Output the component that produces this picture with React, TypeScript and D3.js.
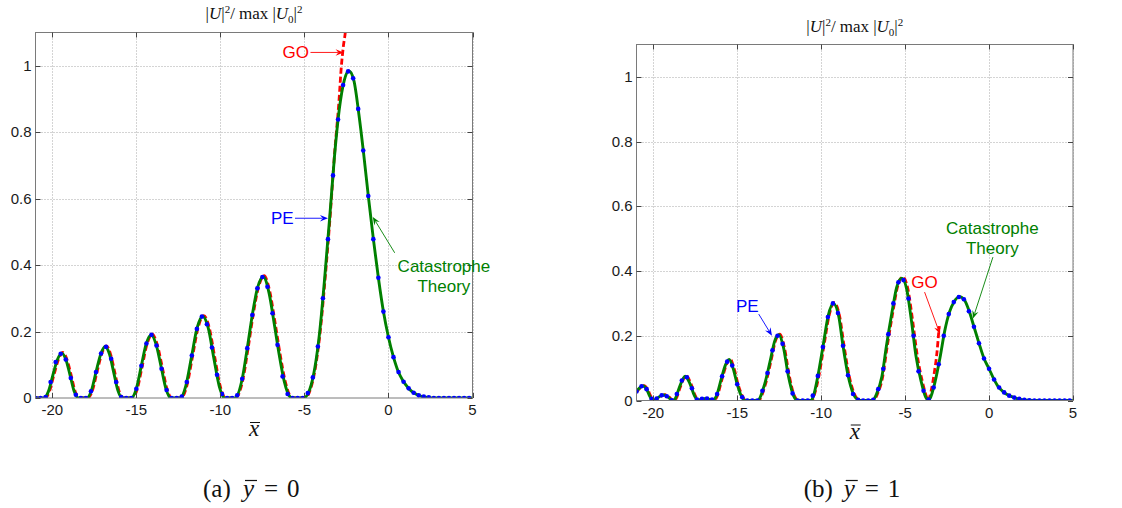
import React from 'react';
import * as d3 from 'd3';

type P = [number, number];

const xTicks = [-20, -15, -10, -5, 0, 5];
const xTickLabels = ['-20', '-15', '-10', '-5', '0', '5'];
const yTicks = [0, 0.2, 0.4, 0.6, 0.8, 1];
const yTickLabels = ['0', '0.2', '0.4', '0.6', '0.8', '1'];
const xDomain: [number, number] = [-21, 5];
const yDomain: [number, number] = [0, 1.1];

// ---------- panel (a): y = 0 ----------
const theoryA: P[] = [
  [-21, 0], [-20.5, 0], [-20.23, 0.02], [-19.97, 0.068], [-19.7, 0.115], [-19.43, 0.135], [-19.19, 0.115], [-18.94, 0.068], [-18.7, 0.02], [-18.45, 0],
  [-17.95, 0], [-17.67, 0.023], [-17.4, 0.078], [-17.12, 0.132], [-16.85, 0.155], [-16.6, 0.132], [-16.35, 0.078], [-16.1, 0.023], [-15.85, 0],
  [-15.3, 0], [-15.0, 0.028], [-14.71, 0.095], [-14.42, 0.162], [-14.12, 0.19], [-13.83, 0.162], [-13.53, 0.095], [-13.24, 0.028], [-12.95, 0],
  [-12.4, 0], [-12.06, 0.036], [-11.72, 0.123], [-11.39, 0.21], [-11.05, 0.246], [-10.72, 0.21], [-10.4, 0.123], [-10.07, 0.036], [-9.75, 0],
  [-9.15, 0], [-8.7, 0.058], [-8.4, 0.15], [-8.1, 0.25], [-7.8, 0.33], [-7.45, 0.365], [-7.1, 0.315], [-6.8, 0.225], [-6.5, 0.13], [-6.2, 0.05], [-5.85, 0.003], [-5.7, 0],
  [-5.05, 0], [-4.69, 0.025], [-4.39, 0.088], [-4.09, 0.2], [-3.8, 0.358], [-3.5, 0.541], [-3.22, 0.722], [-2.93, 0.867], [-2.63, 0.956], [-2.35, 0.984],
  [-2.06, 0.956], [-1.76, 0.854], [-1.48, 0.737], [-1.19, 0.604], [-0.89, 0.475], [-0.59, 0.358], [-0.3, 0.26], [0, 0.183], [0.3, 0.123], [0.57, 0.081],
  [0.87, 0.051], [1.17, 0.031], [1.46, 0.017], [1.76, 0.009], [2.04, 0.004], [2.33, 0.002], [2.7, 0], [5, 0],
];

const goA: P[] = [
  [-21, 0], [-20.45, 0], [-20.17, 0.02], [-19.91, 0.068], [-19.64, 0.115], [-19.37, 0.137], [-19.13, 0.116], [-18.88, 0.069], [-18.64, 0.02], [-18.4, 0],
  [-17.9, 0], [-17.61, 0.023], [-17.34, 0.078], [-17.06, 0.133], [-16.79, 0.157], [-16.54, 0.133], [-16.29, 0.079], [-16.04, 0.023], [-15.8, 0],
  [-15.25, 0], [-14.94, 0.028], [-14.65, 0.096], [-14.36, 0.163], [-14.06, 0.192], [-13.77, 0.163], [-13.47, 0.096], [-13.18, 0.028], [-12.9, 0],
  [-12.34, 0], [-12.0, 0.036], [-11.66, 0.124], [-11.33, 0.211], [-10.99, 0.248], [-10.66, 0.211], [-10.34, 0.124], [-10.01, 0.036], [-9.7, 0],
  [-9.1, 0], [-8.65, 0.058], [-8.35, 0.15], [-8.05, 0.25], [-7.75, 0.33], [-7.4, 0.368], [-7.05, 0.318], [-6.75, 0.228], [-6.45, 0.133], [-6.15, 0.052], [-5.8, 0.003], [-5.65, 0],
  [-4.95, 0], [-4.65, 0.025], [-4.35, 0.09], [-4.05, 0.205], [-3.75, 0.37], [-3.45, 0.56], [-3.2, 0.74], [-2.95, 0.89], [-2.8, 1.0], [-2.68, 1.06], [-2.56, 1.104], [-2.5, 1.14],
];

const peA: P[] = [
  [-21.0, 0], [-20.7, 0], [-20.4, 0.003], [-20.1, 0.048], [-19.8, 0.108], [-19.5, 0.133], [-19.2, 0.116], [-18.9, 0.06], [-18.6, 0.01], [-18.3, 0],
  [-18.0, 0], [-17.7, 0.02], [-17.4, 0.078], [-17.1, 0.134], [-16.8, 0.154], [-16.5, 0.118], [-16.2, 0.048], [-15.9, 0.003], [-15.6, 0], [-15.3, 0],
  [-15.0, 0.028], [-14.7, 0.097], [-14.4, 0.164], [-14.1, 0.19], [-13.8, 0.158], [-13.5, 0.088], [-13.2, 0.024], [-12.9, 0], [-12.6, 0], [-12.3, 0.004],
  [-12.0, 0.048], [-11.7, 0.128], [-11.4, 0.208], [-11.1, 0.245], [-10.8, 0.222], [-10.5, 0.152], [-10.2, 0.07], [-9.9, 0.012], [-9.6, 0], [-9.3, 0],
  [-9.0, 0.008], [-8.7, 0.058], [-8.4, 0.15], [-8.1, 0.25], [-7.8, 0.33], [-7.5, 0.364], [-7.2, 0.335], [-6.9, 0.255], [-6.6, 0.16], [-6.3, 0.065],
  [-6.0, 0.012], [-5.7, 0], [-5.4, 0], [-5.1, 0], [-4.8, 0.015], [-4.5, 0.062], [-4.2, 0.155], [-3.9, 0.3], [-3.6, 0.478], [-3.3, 0.67],
  [-3.0, 0.838], [-2.7, 0.942], [-2.4, 0.983], [-2.1, 0.962], [-1.8, 0.87], [-1.5, 0.745], [-1.2, 0.608], [-0.9, 0.478], [-0.6, 0.362], [-0.3, 0.26],
  [0.0, 0.183], [0.3, 0.123], [0.6, 0.078], [0.9, 0.049], [1.2, 0.029], [1.5, 0.016], [1.8, 0.008], [2.1, 0.004], [2.4, 0.002], [2.7, 0],
  [3.0, 0], [3.3, 0], [3.6, 0], [3.9, 0], [4.2, 0], [4.5, 0], [4.8, 0],
];

// ---------- panel (b): y = 1 ----------
const theoryB: P[] = [
  [-21, 0.028], [-20.8, 0.04], [-20.6, 0.045], [-20.4, 0.035], [-20.2, 0.012], [-20.02, 0], [-19.85, 0.004], [-19.6, 0.013], [-19.35, 0.017], [-19.1, 0.01],
  [-18.85, 0], [-18.7, 0.005], [-18.45, 0.04], [-18.1, 0.075], [-17.8, 0.05], [-17.55, 0.015], [-17.35, 0.001], [-17.1, 0.005], [-16.85, 0.006], [-16.6, 0.003],
  [-16.45, 0.002], [-16.25, 0.013], [-15.95, 0.067], [-15.7, 0.11], [-15.48, 0.127], [-15.25, 0.1], [-15.0, 0.05], [-14.78, 0.017], [-14.55, 0], [-13.8, 0],
  [-13.37, 0.05], [-13.04, 0.122], [-12.76, 0.185], [-12.52, 0.203], [-12.25, 0.165], [-11.95, 0.075], [-11.65, 0.015], [-11.4, 0], [-10.6, 0], [-10.46, 0.014],
  [-10.18, 0.08], [-9.87, 0.174], [-9.58, 0.262], [-9.28, 0.3], [-8.95, 0.259], [-8.7, 0.169], [-8.4, 0.078], [-8.09, 0.021], [-7.82, 0.002], [-7.7, 0],
  [-6.95, 0], [-6.71, 0.019], [-6.38, 0.075], [-6.12, 0.166], [-5.79, 0.27], [-5.5, 0.35], [-5.2, 0.378], [-4.91, 0.345], [-4.63, 0.249], [-4.36, 0.14],
  [-4.05, 0.06], [-3.77, 0.01], [-3.63, 0.002], [-3.5, 0.008], [-3.22, 0.057], [-2.92, 0.133], [-2.64, 0.215], [-2.36, 0.273], [-2.07, 0.306], [-1.76, 0.321],
  [-1.47, 0.311], [-1.19, 0.277], [-0.9, 0.228], [-0.61, 0.179], [-0.3, 0.13], [0, 0.098], [0.28, 0.067], [0.57, 0.041], [0.86, 0.026], [1.16, 0.016],
  [1.45, 0.01], [1.75, 0.005], [2.02, 0.002], [2.3, 0.001], [2.7, 0], [5, 0],
];

const goB: P[] = [
  [-21, 0.026], [-20.75, 0.04], [-20.55, 0.046], [-20.35, 0.036], [-20.15, 0.013], [-19.97, 0], [-19.8, 0.004], [-19.55, 0.013], [-19.3, 0.018], [-19.05, 0.01],
  [-18.8, 0], [-18.65, 0.005], [-18.4, 0.04], [-18.05, 0.077], [-17.75, 0.051], [-17.5, 0.015], [-17.3, 0], [-16.4, 0], [-16.2, 0.013], [-15.9, 0.067],
  [-15.65, 0.11], [-15.43, 0.129], [-15.2, 0.101], [-14.95, 0.05], [-14.72, 0.017], [-14.5, 0], [-13.75, 0], [-13.32, 0.05], [-12.99, 0.122], [-12.71, 0.186],
  [-12.47, 0.205], [-12.2, 0.166], [-11.9, 0.076], [-11.6, 0.015], [-11.35, 0], [-10.55, 0], [-10.4, 0.019], [-10.12, 0.08], [-9.82, 0.174], [-9.53, 0.262],
  [-9.23, 0.302], [-8.9, 0.26], [-8.64, 0.17], [-8.34, 0.078], [-8.03, 0.021], [-7.76, 0.002], [-7.64, 0], [-6.9, 0], [-6.66, 0.019], [-6.33, 0.075],
  [-6.07, 0.166], [-5.74, 0.27], [-5.45, 0.352], [-5.15, 0.382], [-4.85, 0.348], [-4.56, 0.25], [-4.28, 0.14], [-3.98, 0.06], [-3.72, 0.01], [-3.65, 0],
  [-3.45, 0.03], [-3.25, 0.09], [-3.1, 0.15], [-2.97, 0.23],
];

const peB: P[] = [
  [-21.0, 0.028], [-20.7, 0.044], [-20.4, 0.035], [-20.1, 0.005], [-19.8, 0.006], [-19.5, 0.016], [-19.2, 0.013], [-18.9, 0.001], [-18.6, 0.02], [-18.3, 0.062],
  [-18.0, 0.072], [-17.7, 0.038], [-17.4, 0.003], [-17.1, 0.005], [-16.8, 0.006], [-16.5, 0.003], [-16.2, 0.02], [-15.9, 0.075], [-15.6, 0.12], [-15.3, 0.108],
  [-15.0, 0.05], [-14.7, 0.01], [-14.4, 0], [-14.1, 0], [-13.8, 0], [-13.5, 0.03], [-13.2, 0.085], [-12.9, 0.155], [-12.6, 0.2], [-12.3, 0.175],
  [-12.0, 0.09], [-11.7, 0.022], [-11.4, 0], [-11.1, 0], [-10.8, 0], [-10.5, 0.015], [-10.2, 0.076], [-9.9, 0.165], [-9.6, 0.258], [-9.3, 0.3],
  [-9.0, 0.27], [-8.7, 0.169], [-8.4, 0.078], [-8.1, 0.02], [-7.8, 0.002], [-7.5, 0], [-7.2, 0], [-6.9, 0.002], [-6.6, 0.035], [-6.3, 0.098],
  [-6.0, 0.205], [-5.7, 0.3], [-5.4, 0.365], [-5.1, 0.372], [-4.8, 0.315], [-4.5, 0.2], [-4.2, 0.09], [-3.9, 0.03], [-3.6, 0.003], [-3.3, 0.04],
  [-3.0, 0.112], [-2.7, 0.2], [-2.4, 0.267], [-2.1, 0.304], [-1.8, 0.32], [-1.5, 0.313], [-1.2, 0.276], [-0.9, 0.228], [-0.6, 0.177], [-0.3, 0.13],
  [0.0, 0.098], [0.3, 0.065], [0.6, 0.04], [0.9, 0.025], [1.2, 0.015], [1.5, 0.009], [1.8, 0.005], [2.1, 0.002], [2.4, 0.001], [2.7, 0],
  [3.0, 0], [3.3, 0], [3.6, 0], [3.9, 0], [4.2, 0], [4.5, 0], [4.8, 0],
];

const RED = '#ff0000';
const GREEN = '#008000';
const BLUE = '#0000ff';
const SANS = '"Liberation Sans", Arial, sans-serif';
const SERIF = '"Liberation Serif", "Times New Roman", serif';

type Note = { lines: string[]; color: string; tx: number; ty: number; lh: number; from: P; to: P };
type Box = { l: number; r: number; t: number; b: number };

const notesA: Note[] = [
  { lines: ['GO'], color: RED, tx: -5.52, ty: 1.022, lh: 0, from: [-4.64, 1.04], to: [-2.67, 1.04] },
  { lines: ['PE'], color: BLUE, tx: -6.32, ty: 0.524, lh: 0, from: [-5.56, 0.541], to: [-3.6, 0.541] },
  { lines: ['Catastrophe', 'Theory'], color: GREEN, tx: 3.3, ty: 0.38, lh: 20, from: [0.37, 0.437], to: [-0.93, 0.545] },
];
const notesB: Note[] = [
  { lines: ['PE'], color: BLUE, tx: -14.4, ty: 0.273, lh: 0, from: [-13.72, 0.267], to: [-12.93, 0.2] },
  { lines: ['GO'], color: RED, tx: -3.84, ty: 0.347, lh: 0, from: [-3.84, 0.335], to: [-2.92, 0.205] },
  { lines: ['Catastrophe', 'Theory'], color: GREEN, tx: 0.2, ty: 0.516, lh: 20, from: [0.23, 0.443], to: [-0.96, 0.253] },
];

function Arrow({ x1, y1, x2, y2, color }: { x1: number; y1: number; x2: number; y2: number; color: string }) {
  const a = Math.atan2(y2 - y1, x2 - x1);
  const L = 8, W = 3.2;
  const bx = x2 - L * Math.cos(a), by = y2 - L * Math.sin(a);
  const px = -Math.sin(a) * W, py = Math.cos(a) * W;
  const pts = `${x2},${y2} ${bx + px},${by + py} ${bx + 0.35 * L * Math.cos(a)},${by + 0.35 * L * Math.sin(a)} ${bx - px},${by - py}`;
  return (
    <g>
      <line x1={x1} y1={y1} x2={bx + 0.3 * L * Math.cos(a)} y2={by + 0.3 * L * Math.sin(a)} stroke={color} strokeWidth={0.9} />
      <polygon points={pts} fill={color} />
    </g>
  );
}

function Panel({ id, box, theory, go, pe, notes, titleY, caption, value }: { id: string; box: Box; theory: P[]; go: P[]; pe: P[]; notes: Note[]; titleY: number; caption: string; value: string }) {
  const x = d3.scaleLinear().domain(xDomain).range([box.l, box.r]);
  const y = d3.scaleLinear().domain(yDomain).range([box.b, box.t]);
  const line = d3.line<P>().x(d => x(d[0])).y(d => y(d[1])).curve(d3.curveMonotoneX);
  const cx = (box.l + box.r) / 2;
  const tick = 5;
  const capX = cx - 51;
  const capY = 497;
  return (
    <g>
      <defs>
        <clipPath id={`clip-${id}`}>
          <rect x={box.l} y={box.t} width={box.r - box.l} height={box.b - box.t} />
        </clipPath>
      </defs>
      <rect x={box.l} y={box.t} width={box.r - box.l} height={box.b - box.t} fill="#fff" />
      {/* grid */}
      {xTicks.map(t => (
        <line key={`gx${t}`} x1={Math.round(x(t)) + 0.5} x2={Math.round(x(t)) + 0.5} y1={box.t} y2={box.b} stroke="#a8a8a8" strokeDasharray="1 2" strokeWidth={1} />
      ))}
      {yTicks.filter(t => t > 0).map(t => (
        <line key={`gy${t}`} x1={box.l} x2={box.r} y1={Math.round(y(t)) + 0.5} y2={Math.round(y(t)) + 0.5} stroke="#a8a8a8" strokeDasharray="1 2" strokeWidth={1} />
      ))}
      {/* data */}
      <g clipPath={`url(#clip-${id})`}>
        <path d={line(go) || ''} fill="none" stroke={RED} strokeWidth={2.8} strokeDasharray="6 3" />
        <path d={line(theory) || ''} fill="none" stroke={GREEN} strokeWidth={2.9} />
        {pe.map((d, i) => (
          <circle key={i} cx={x(d[0])} cy={y(d[1])} r={2.3} fill={BLUE} />
        ))}
      </g>
      {/* box */}
      <rect x={box.l} y={box.t} width={box.r - box.l} height={box.b - box.t} fill="none" stroke="#7a7a7a" strokeWidth={1} />
      {/* ticks */}
      {xTicks.map(t => {
        const xx = Math.round(x(t)) + 0.5;
        return (
          <g key={`tx${t}`}>
            <line x1={xx} x2={xx} y1={box.b} y2={box.b - tick} stroke="#444" />
            <line x1={xx} x2={xx} y1={box.t} y2={box.t + tick} stroke="#444" />
          </g>
        );
      })}
      {yTicks.map(t => {
        const yy = Math.round(y(t)) + 0.5;
        return (
          <g key={`ty${t}`}>
            <line x1={box.l} x2={box.l + tick} y1={yy} y2={yy} stroke="#444" />
            <line x1={box.r} x2={box.r - tick} y1={yy} y2={yy} stroke="#444" />
          </g>
        );
      })}
      {/* tick labels */}
      {xTicks.map((t, i) => (
        <text key={`lx${t}`} x={x(t)} y={box.b + 17} textAnchor="middle" fontFamily={SANS} fontSize={15} fill="#1a1a1a">{xTickLabels[i]}</text>
      ))}
      {yTicks.map((t, i) => (
        <text key={`ly${t}`} x={box.l - 4} y={y(t) + 5} textAnchor="end" fontFamily={SANS} fontSize={15} fill="#1a1a1a">{yTickLabels[i]}</text>
      ))}
      {/* title */}
      <text x={cx} y={titleY} textAnchor="middle" fontFamily={SERIF} fontSize={17} fill="#111">
        <tspan>|</tspan><tspan fontStyle="italic">U</tspan><tspan>|</tspan>
        <tspan dy={-6} fontSize={11}>2</tspan>
        <tspan dy={6}>/ max</tspan>
        <tspan dx={4}>|</tspan><tspan fontStyle="italic">U</tspan>
        <tspan dy={4} fontSize={11}>0</tspan>
        <tspan dy={-4}>|</tspan>
        <tspan dy={-6} fontSize={11}>2</tspan>
      </text>
      {/* x label */}
      <text x={cx} y={box.b + 38} textAnchor="middle" fontFamily={SERIF} fontSize={23} fontStyle="italic" fill="#111">x</text>
      <line x1={cx - 4} x2={cx + 6} y1={box.b + 24.5} y2={box.b + 24.5} stroke="#111" strokeWidth={1} />
      {/* caption */}
      <text x={capX} y={capY} fontFamily={SERIF} fontSize={25} fill="#111">{`(${caption})`}</text>
      <text x={capX + 40} y={capY} fontFamily={SERIF} fontSize={25} fontStyle="italic" fill="#111">y</text>
      <line x1={capX + 42} x2={capX + 54} y1={capY - 16.5} y2={capY - 16.5} stroke="#111" strokeWidth={1.2} />
      <text x={capX + 61} y={capY} fontFamily={SERIF} fontSize={25} fill="#111">=</text>
      <text x={capX + 84} y={capY} fontFamily={SERIF} fontSize={25} fill="#111">{value}</text>
      {/* annotations */}
      {notes.map((n, i) => (
        <g key={`n${i}`}>
          <Arrow x1={x(n.from[0])} y1={y(n.from[1])} x2={x(n.to[0])} y2={y(n.to[1])} color={n.color} />
          {n.lines.map((s, j) => (
            <text key={j} x={x(n.tx)} y={y(n.ty) + j * n.lh} textAnchor="middle" fontFamily={SANS} fontSize={17} fill={n.color}>{s}</text>
          ))}
        </g>
      ))}
    </g>
  );
}

export default function App() {
  return (
    <svg width={1122} height={508} style={{ position: 'absolute', left: 0, top: 0, background: '#fff' }}>
      <rect x={0} y={0} width={1122} height={508} fill="#fff" />
      <Panel id="a" box={{ l: 35.5, r: 472.5, t: 32.5, b: 398 }} theory={theoryA} go={goA} pe={peA} notes={notesA} titleY={19} caption="a" value="0" />
      <Panel id="b" box={{ l: 636.5, r: 1073, t: 44.5, b: 400.5 }} theory={theoryB} go={goB} pe={peB} notes={notesB} titleY={32} caption="b" value="1" />
    </svg>
  );
}
